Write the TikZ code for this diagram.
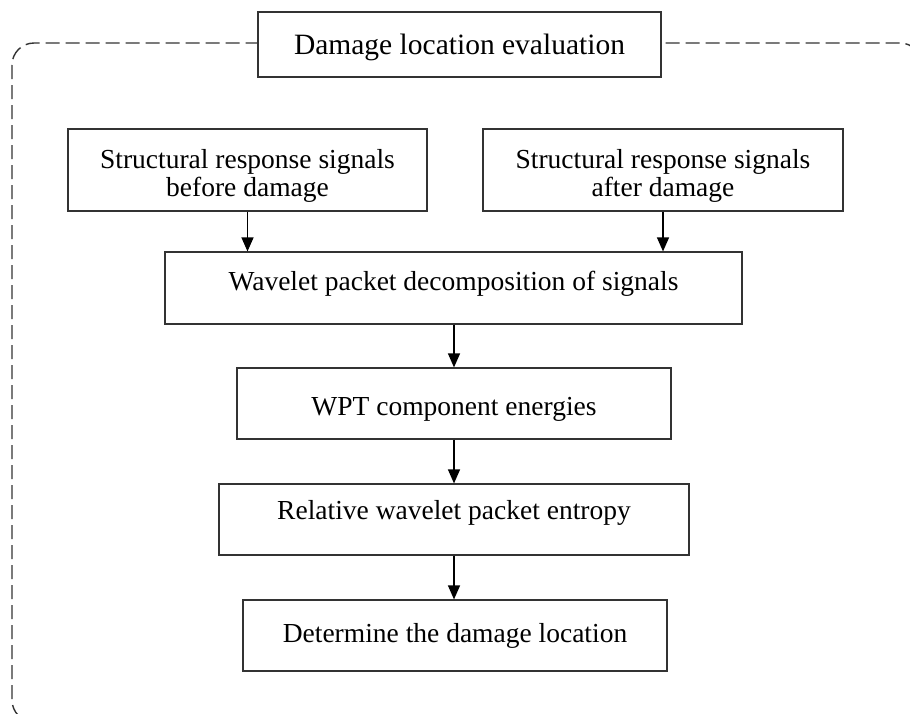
\documentclass[tikz,border=0pt]{standalone}
\usepackage{fontspec}
\setmainfont{Liberation Serif}
\usetikzlibrary{arrows.meta}
\begin{document}
\begin{tikzpicture}[x=1pt,y=-1pt,
  stepbox/.style={draw=black!80, line width=1.2pt, fill=white, inner sep=0pt,
    font=\fontsize{27.5}{28}\selectfont, text height=19pt, text depth=6pt},
  twoline/.style={draw=black!80, line width=1.2pt, fill=white, inner sep=0pt,
    align=center, font=\fontsize{27.5}{28}\selectfont},
  framestyle/.style={draw=black!80, line width=1.4pt, dash pattern=on 14pt off 6pt, rounded corners=22pt},
  flow/.style={draw=black, line width=1.3pt, -{Triangle[length=14pt,width=12pt]}}]
\useasboundingbox (0,0) rectangle (910,713);
\clip (0,0) rectangle (910,713);
\fill[white] (0,0) rectangle (910,713);
\draw[framestyle] (12,43) rectangle (922,722);
\node[stepbox, minimum width=403pt, minimum height=65pt, font=\fontsize{29.5}{30}\selectfont, text height=20pt, text depth=1pt] (title) at (459.5,44.5) {Damage location evaluation};
\node[twoline, minimum width=359pt, minimum height=82pt] (b1) at (247.5,170) {\rule{0pt}{31pt}Structural response signals\\before damage};
\node[twoline, minimum width=360pt, minimum height=82pt] (b2) at (663,170) {\rule{0pt}{31pt}Structural response signals\\after damage};
\node[stepbox, minimum width=577pt, minimum height=72pt, text depth=14pt] (b3) at (453.5,288) {Wavelet packet decomposition of signals};
\node[stepbox, minimum width=434pt, minimum height=71pt, text height=29pt] (b4) at (454,403.5) {WPT component energies};
\node[stepbox, minimum width=470pt, minimum height=71pt, text depth=20pt] (b5) at (454,519.5) {Relative wavelet packet entropy};
\node[stepbox, minimum width=424pt, minimum height=71pt] (b6) at (455,635.5) {Determine the damage location};
\draw[flow] (b1.south) -- (b1.south |- b3.north);
\draw[flow] (b2.south) -- (b2.south |- b3.north);
\draw[flow] (b3.south -| b4.north) -- (b4.north);
\draw[flow] (b4.south) -- (b4.south |- b5.north);
\draw[flow] (b5.south) -- (b5.south |- b6.north);
\end{tikzpicture}
\end{document}
